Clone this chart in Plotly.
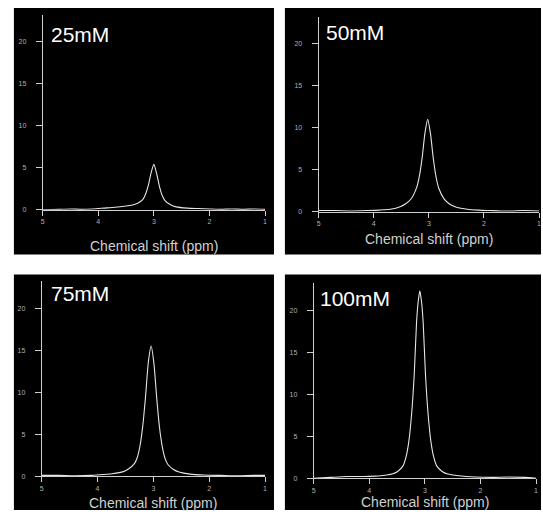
import plotly.graph_objects as go

W, H = 543, 522

labels = ["25mM", "50mM", "75mM", "100mM"]
x_title = "Chemical shift (ppm)"
x_ticks = [5, 4, 3, 2, 1]
y_ticks = [0, 5, 10, 15, 20]

x25 = [5.0, 4.7, 4.5, 4.3, 4.1, 3.9, 3.7, 3.5, 3.4, 3.3, 3.2, 3.15, 3.1, 3.05, 3.0,
       2.95, 2.9, 2.85, 2.8, 2.7, 2.6, 2.4, 2.2, 2.0, 1.8, 1.6, 1.4, 1.2, 1.0]
y25 = [0.0, 0.05, 0.1, 0.05, 0.1, 0.2, 0.3, 0.45, 0.55, 0.75, 1.2, 1.85, 2.9, 4.4, 5.4,
       4.3, 2.8, 1.7, 1.1, 0.6, 0.35, 0.2, 0.15, 0.1, 0.05, 0.1, 0.05, 0.1, 0.05]

x50 = [5.0, 4.7, 4.4, 4.1, 3.9, 3.7, 3.52, 3.42, 3.32, 3.22, 3.17, 3.12, 3.07, 3.02,
       2.97, 2.92, 2.87, 2.82, 2.72, 2.62, 2.5, 2.3, 2.1, 1.9, 1.7, 1.5, 1.3, 1.0]
y50 = [0.15, 0.15, 0.1, 0.15, 0.2, 0.3, 0.6, 0.95, 1.55, 2.9, 4.3, 6.5, 9.4, 11.0,
       9.3, 6.4, 4.2, 2.8, 1.5, 0.9, 0.55, 0.3, 0.2, 0.15, 0.1, 0.1, 0.15, 0.1]

x75 = [5.0, 4.7, 4.4, 4.1, 3.9, 3.74, 3.54, 3.44, 3.34, 3.29, 3.24, 3.19, 3.14, 3.09, 3.04,
       2.99, 2.94, 2.89, 2.84, 2.79, 2.74, 2.64, 2.54, 2.34, 2.1, 1.8, 1.5, 1.2, 1.0]
y75 = [0.1, 0.1, 0.05, 0.1, 0.2, 0.3, 0.55, 0.9, 1.5, 2.2, 3.6, 6.0, 9.5, 13.6, 15.5,
       13.4, 9.3, 5.8, 3.5, 2.1, 1.4, 0.8, 0.5, 0.25, 0.15, 0.1, 0.05, 0.1, 0.1]

x100 = [5.0, 4.7, 4.4, 4.1, 3.9, 3.79, 3.59, 3.49, 3.39, 3.34, 3.29, 3.24, 3.19, 3.15, 3.12,
        3.09, 3.06, 3.03, 2.99, 2.94, 2.89, 2.84, 2.79, 2.69, 2.59, 2.39, 2.1, 1.8, 1.5, 1.2, 1.0]
y100 = [0.0, 0.1, 0.2, 0.2, 0.25, 0.3, 0.5, 0.8, 1.5, 2.5, 4.3, 7.5, 12.5, 18.5, 21.0,
        22.3, 21.0, 18.5, 12.5, 7.5, 4.3, 2.5, 1.5, 0.8, 0.5, 0.3, 0.15, 0.1, 0.15, 0.1, 0.0]

series = [(x25, y25), (x50, y50), (x75, y75), (x100, y100)]

# panel geometry in pixels
panels = [(12, 274, 8, 256), (285, 543, 8, 256), (12, 274, 276, 513), (285, 543, 276, 513)]
# plot area: x left (value 5), x right (value 1), y of value 0
plots = [(41, 265, 211), (319, 541, 213), (40, 265, 479), (314, 538, 481)]
YMAX = 23.2
PXU = 8.45
title_pos = [(47, 35), (324, 33), (47, 295), (318, 300)]
xlab_y = [247, 240, 506, 505]

fig = go.Figure()
layout = dict(width=W, height=H, margin=dict(l=0, r=0, t=0, b=0),
              paper_bgcolor="white", plot_bgcolor="rgba(0,0,0,0)",
              showlegend=False, shapes=[], annotations=[])

axis_common = dict(showgrid=False, zeroline=False, showline=True, linecolor="#cfcfcf",
                   linewidth=1, ticks="outside", tickcolor="#cfcfcf",
                   tickfont=dict(size=7, color="#b0b0b0", family="Liberation Sans"),
                   fixedrange=True)

for i, ((xs, ys), (pl, pr, pt, pb), (al, ar, y0), (tx, ty), xly) in enumerate(
        zip(series, panels, plots, title_pos, xlab_y)):
    n = "" if i == 0 else str(i + 1)
    layout["shapes"].append(dict(type="rect", xref="paper", yref="paper",
                                 x0=pl / W, x1=pr / W, y0=1 - pb / H, y1=1 - pt / H,
                                 fillcolor="black", line=dict(width=0), layer="below"))
    ytop = y0 - YMAX * PXU
    layout["xaxis" + n] = dict(axis_common, domain=[al / W, ar / W], range=[5, 1],
                               tickvals=x_ticks, anchor="y" + n, ticklen=5)
    layout["yaxis" + n] = dict(axis_common, domain=[1 - y0 / H, 1 - ytop / H],
                               range=[0, YMAX], tickvals=y_ticks, anchor="x" + n,
                               ticklen=6, ticklabelstandoff=8)
    fig.add_trace(go.Scatter(x=xs, y=ys, mode="lines", xaxis="x" + n, yaxis="y" + n,
                             line=dict(color="#e6e6e6", width=1.1, shape="spline",
                                       smoothing=0.6)))
    layout["annotations"].append(dict(text=labels[i], xref="paper", yref="paper",
                                      x=tx / W, y=1 - ty / H, xanchor="left",
                                      yanchor="middle", showarrow=False,
                                      font=dict(size=21, color="white",
                                                family="Liberation Sans")))
    layout["annotations"].append(dict(text=x_title, xref="paper", yref="paper",
                                      x=(al + ar) / 2 / W, y=1 - xly / H, xanchor="center",
                                      yanchor="middle", showarrow=False,
                                      font=dict(size=14, color="#d0d0d0",
                                                family="Liberation Sans")))

fig.update_layout(**layout)
fig.write_html("out.html")
